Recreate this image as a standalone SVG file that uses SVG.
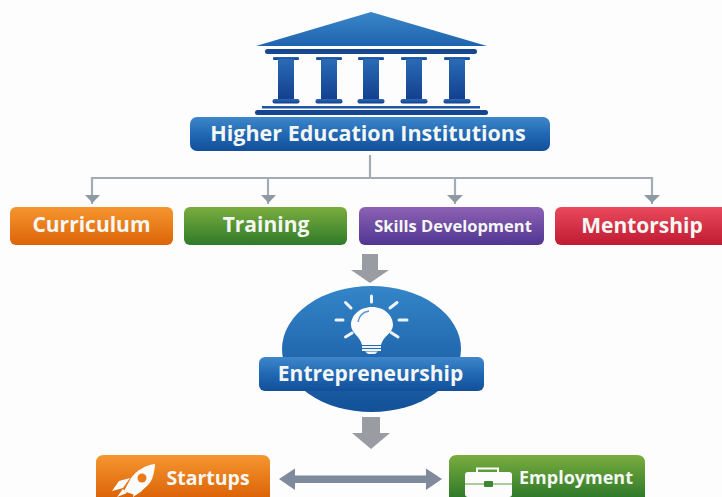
<svg xmlns="http://www.w3.org/2000/svg" width="722" height="497" viewBox="0 0 722 497">
<style>
.t{font-family:"Open Sans","Liberation Sans",sans-serif;font-weight:700;fill:#f4f7f4;text-anchor:middle}
.w{fill:#fbfcfb}
.c{fill:none;stroke:#a3acb5;stroke-width:2.2}
.h{fill:#8f99a2}
.b{fill:#999da3}
.col{fill:url(#col)}
.ray{stroke:#eef4fa;stroke-width:3;stroke-linecap:round;fill:none}
</style>
<defs>
<linearGradient id="blue" x1="0" y1="0" x2="0" y2="1"><stop offset="0" stop-color="#3f87cb"/><stop offset=".5" stop-color="#2168b3"/><stop offset="1" stop-color="#134f9a"/></linearGradient>
<linearGradient id="roof" x1="0" y1="0" x2="0" y2="1"><stop offset="0" stop-color="#3a86c9"/><stop offset="1" stop-color="#1f63ae"/></linearGradient>
<linearGradient id="col" x1="0" y1="0" x2="0" y2="1"><stop offset="0" stop-color="#2a6bb5"/><stop offset="1" stop-color="#123f8e"/></linearGradient>
<linearGradient id="ell" x1="0" y1="0" x2="0" y2="1"><stop offset="0" stop-color="#3485c9"/><stop offset="1" stop-color="#135199"/></linearGradient>
<linearGradient id="orange" x1="0" y1="0" x2="0" y2="1"><stop offset="0" stop-color="#f6962f"/><stop offset="1" stop-color="#dc6408"/></linearGradient>
<linearGradient id="green" x1="0" y1="0" x2="0" y2="1"><stop offset="0" stop-color="#7bad3e"/><stop offset="1" stop-color="#2f7a2a"/></linearGradient>
<linearGradient id="purple" x1="0" y1="0" x2="0" y2="1"><stop offset="0" stop-color="#8d62b4"/><stop offset="1" stop-color="#4f3592"/></linearGradient>
<linearGradient id="red" x1="0" y1="0" x2="0" y2="1"><stop offset="0" stop-color="#ea4a5c"/><stop offset="1" stop-color="#bf1a32"/></linearGradient>
<g id="column">
<rect x="-13" y="57" width="26" height="3" rx="1"/>
<rect x="-8" y="59" width="16" height="41"/>
<rect x="-13.500" y="99" width="27" height="4.500" rx="2"/>
</g>
</defs>
<rect width="722" height="497" fill="#fdfdfd"/>

<g id="connectors">
<path class="c" d="M370 155V178M92 204V178H652V204M268 178V204M455 178V204"/>
<path class="h" d="M85 195H100L92.500 203ZM261 195H276L268.500 203ZM447 195H463L455 203ZM644 195H660L652 203Z"/>
<path class="b" d="M362 254H378V270H389L370 283L351 270H362Z"/>
<path class="b" d="M362 417H380V433H390L371 449L352 433H362Z"/>
<path fill="#7f8a9c" d="M279 479L295 468.500V475.500H426V468.500L442 479L426 490V483H295V490Z"/>
</g>

<g id="institutions">
<path fill="url(#roof)" d="M371 12L487 46H256Z"/>
<rect x="265" y="49" width="212" height="5" rx="2.500" fill="#17478f"/>
<g class="col">
<use href="#column" x="286"/><use href="#column" x="329"/><use href="#column" x="371"/><use href="#column" x="414"/><use href="#column" x="457"/>
</g>
<rect x="262" y="106" width="218" height="2.500" fill="#1c589f"/>
<rect x="255" y="110" width="233" height="5" rx="2.500" fill="#154490"/>
<rect x="190" y="117" width="360" height="34" rx="7" fill="url(#blue)"/>
<text class="t" x="368" y="141" font-size="21.500">Higher Education Institutions</text>
</g>

<g id="curriculum">
<rect x="10" y="207" width="163" height="38" rx="6" fill="url(#orange)"/>
<text class="t" x="91.500" y="232" font-size="21">Curriculum</text>
</g>
<g id="training">
<rect x="184" y="207" width="163" height="38" rx="6" fill="url(#green)"/>
<text class="t" x="266" y="232" font-size="21">Training</text>
</g>
<g id="skills">
<rect x="359" y="207" width="185" height="38" rx="6" fill="url(#purple)"/>
<text class="t" x="453" y="232" font-size="16.500">Skills Development</text>
</g>
<g id="mentorship">
<rect x="555" y="207" width="175" height="38" rx="6" fill="url(#red)"/>
<text class="t" x="642" y="232.500" font-size="21">Mentorship</text>
</g>

<g id="entrepreneurship">
<ellipse cx="371.500" cy="349" rx="89.500" ry="63" fill="url(#ell)"/>
<path class="ray" d="M371.500 296V302M345.500 302.500L351 308M397 302.500L390 308M336 320H343M399 320H407M345.500 337L352 333M398 337L391 332.500"/>
<path class="w" d="M372 307C359 307 351 316 351 325C351 333 360 336 362 345H381C383 336 393 333 393 325C393 316 385 307 372 307Z"/>
<path fill="none" stroke="#5b9bd5" stroke-width="1.500" d="M358 322C359 316 363 312 369 311"/>
<path fill="#eef4fa" d="M362 346H381V348H362ZM362 349H381V351H362ZM365 351.500H378L375 354H368Z"/>
<rect x="259" y="357" width="225" height="34" rx="6" fill="url(#blue)"/>
<text class="t" x="370.500" y="381" font-size="21">Entrepreneurship</text>
</g>

<g id="startups">
<path fill="url(#orange)" d="M96 497V463Q96 455 104 455H262Q270 455 270 463V497Z"/>
<path class="w" d="M155 464C146 465 137 470 131 478L124 491L129 493L135 495C143 490 151 484 153 476C154 472 155 468 155 464Z"/>
<path class="w" d="M130 478L119 481L112 491L123 488ZM135 486L133 497L142 491L145 482ZM123 489L127 493L117 497Z"/>
<circle cx="142" cy="478" r="4.500" fill="#ea7b17"/>
<text class="t" x="208" y="485" font-size="19.500">Startups</text>
</g>

<g id="employment">
<path fill="url(#green)" d="M449 497V463Q449 455 457 455H637Q645 455 645 463V497Z"/>
<path fill="none" stroke="#fbfcfb" stroke-width="2" d="M477 472V468.500H498V472"/>
<rect x="465" y="472" width="47" height="25" rx="3" class="w"/>
<path stroke="#5c9a3a" stroke-width="1" d="M465 484H512"/>
<rect x="484" y="481" width="9" height="6" rx="1" fill="#3f8630"/>
<text class="t" x="576" y="484" font-size="18">Employment</text>
</g>
</svg>
